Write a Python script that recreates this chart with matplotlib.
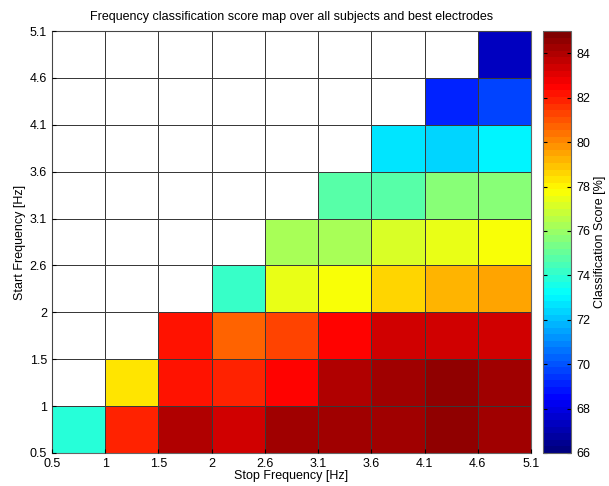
import matplotlib
matplotlib.use("Agg")
import matplotlib.pyplot as plt
import numpy as np
from matplotlib.colors import LinearSegmentedColormap

plt.rcParams['font.family'] = ['Liberation Sans', 'DejaVu Sans']

# tick labels (cell edges) for both axes
stop_labels = ["0.5", "1", "1.5", "2", "2.6", "3.1", "3.6", "4.1", "4.6", "5.1"]
start_labels = ["0.5", "1", "1.5", "2", "2.6", "3.1", "3.6", "4.1", "4.6", "5.1"]

# classification score per cell, rows = start band (bottom to top), cols = stop band
# None = not computed (white)
scores = [
    [74.0, 82.0, 83.9, 83.5, 84.2, 84.2, 84.4, 84.7, 84.4],
    [None, 78.4, 82.3, 82.0, 82.6, 84.1, 84.4, 84.7, 84.4],
    [None, None, 82.3, 80.8, 81.4, 82.6, 83.5, 83.5, 83.5],
    [None, None, None, 74.3, 77.3, 77.7, 78.7, 79.3, 79.4],
    [None, None, None, None, 76.2, 76.2, 77.0, 77.5, 77.7],
    [None, None, None, None, None, 74.9, 74.9, 75.5, 75.5],
    [None, None, None, None, None, None, 72.8, 72.3, 73.1],
    [None, None, None, None, None, None, None, 69.0, 69.6],
    [None, None, None, None, None, None, None, None, 67.2],
]
cbar_ticks = [66, 68, 70, 72, 74, 76, 78, 80, 82, 84]

# matlab-style jet, 64 levels
jet64 = LinearSegmentedColormap.from_list(
    "mjet",
    [(0.0, (0, 0, 0.5)), (0.125, (0, 0, 1)), (0.375, (0, 1, 1)),
     (0.625, (1, 1, 0)), (0.875, (1, 0, 0)), (1.0, (0.5, 0, 0))],
    N=64)

data = np.ma.masked_invalid(np.array(scores, dtype=float))

fig = plt.figure(figsize=(6.09, 4.86), dpi=100)
ax = fig.add_axes([0.0854, 0.068, 0.7866, 0.868])
cax = fig.add_axes([0.892, 0.068, 0.046, 0.868])

mesh = ax.pcolormesh(np.arange(10), np.arange(10), data, cmap=jet64,
                     vmin=66, vmax=85, edgecolor=(0.1, 0.1, 0.1), linewidth=0.6)

ax.set_xlim(0, 9)
ax.set_ylim(0, 9)
ax.set_xticks(np.arange(10))
ax.set_xticklabels(stop_labels)
ax.set_yticks(np.arange(10))
ax.set_yticklabels(start_labels)
ax.grid(True, color=(0.25, 0.25, 0.25), linewidth=0.6)
ax.set_axisbelow(False)
ax.tick_params(direction='in', labelsize=9, length=3, top=False, right=False)
for s in ax.spines.values():
    s.set_color((0.4, 0.4, 0.4))
    s.set_linewidth(0.8)

ax.set_xlabel("Stop Frequency [Hz]", fontsize=9, labelpad=0)
ax.set_ylabel("Start Frequency [Hz]", fontsize=9, labelpad=3)
ax.set_title("Frequency classification score map over all subjects and best electrodes",
             fontsize=9, pad=8)

cb = fig.colorbar(mesh, cax=cax, ticks=cbar_ticks)
cb.outline.set_edgecolor((0.4, 0.4, 0.4))
cb.outline.set_linewidth(0.8)
cax.tick_params(direction='in', labelsize=9, length=3, left=True, right=True)
cb.set_label("Classification Score [%]", fontsize=9, labelpad=3)

fig.savefig("out.png", dpi=100)
